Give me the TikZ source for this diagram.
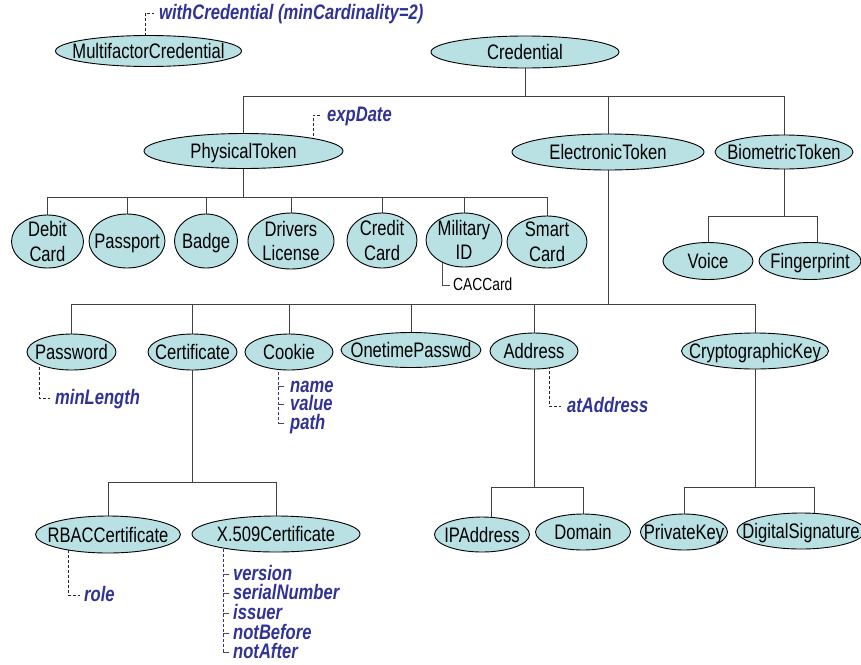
\documentclass[tikz,border=0pt]{standalone}
\usepackage{fontspec}
\setmainfont{Liberation Sans}[FakeStretch=0.79]
\usetikzlibrary{shapes.geometric}
\definecolor{ellfill}{RGB}{185,225,228}
\definecolor{attrblue}{RGB}{48,50,150}
\pgfdeclarelayer{bg}
\pgfsetlayers{bg,main}
\begin{document}
\begin{tikzpicture}[x=1pt,y=-1pt,
  ell/.style={ellipse, draw=black, line width=0.9pt, fill=ellfill, inner sep=0pt, outer sep=0pt},
  every label/.style={font=\fontsize{21}{24.5}\selectfont, inner sep=0pt, text height=15pt, text depth=0pt},
  two/.style={align=center, text height={}, text depth={}},
  tree/.style={draw=black!75, line width=0.9pt},
  attrline/.style={draw=black!85, line width=0.8pt, dash pattern=on 3pt off 2pt},
  blueline/.style={draw=attrblue, line width=0.8pt, dash pattern=on 3pt off 2pt},
  tickline/.style={draw=black!70, line width=0.8pt},
  attr/.style={font=\fontsize{21}{24}\selectfont\bfseries\itshape, text=attrblue, inner sep=0pt, anchor=base west},
  small/.style={font=\fontsize{17.5}{20}\selectfont, text=black, inner sep=0pt, anchor=base west},
]
\useasboundingbox (0,0) rectangle (861,664);

% ---- nodes ----
\node[ell, minimum width=186pt, minimum height=31pt, label=center:MultifactorCredential] (MC) at (148.5,51) {};
\node[ell, minimum width=188pt, minimum height=32pt, label=center:Credential] (Cred) at (525,52) {};
\node[ell, minimum width=199pt, minimum height=35pt, label=center:PhysicalToken] (PT) at (243.5,151) {};
\node[ell, minimum width=192pt, minimum height=36pt, label=center:ElectronicToken] (ET) at (608,152) {};
\node[ell, minimum width=138pt, minimum height=34pt, label=center:BiometricToken] (BT) at (784,152) {};

\node[ell, minimum width=72pt, minimum height=53pt, label={[two]center:Debit\\Card}] (Debit) at (47.5,241.5) {};
\node[ell, minimum width=76pt, minimum height=54pt, label=center:Passport] (Pass) at (127,241) {};
\node[ell, minimum width=63pt, minimum height=54pt, label=center:Badge] (Badge) at (206,241) {};
\node[ell, minimum width=86pt, minimum height=56pt, label={[two]center:Drivers\\License}] (Drv) at (291,241) {};
\node[ell, minimum width=70pt, minimum height=55pt, label={[two]center:Credit\\Card}] (Credit) at (382,240.5) {};
\node[ell, minimum width=76pt, minimum height=54pt, label={[two]center:Military\\ID}] (Mil) at (464,240) {};
\node[ell, minimum width=80pt, minimum height=52pt, label={[two]center:Smart\\Card}] (Smart) at (547,242) {};

\node[ell, minimum width=90pt, minimum height=37pt, label=center:Voice] (Voice) at (708,261) {};
\node[ell, minimum width=102pt, minimum height=37pt, label=center:Fingerprint] (Finger) at (810,261) {};

\node[ell, minimum width=89pt, minimum height=36pt, label=center:Password] (Pwd) at (71.5,352) {};
\node[ell, minimum width=89pt, minimum height=36pt, label=center:Certificate] (Cert) at (192.5,352) {};
\node[ell, minimum width=88pt, minimum height=36pt, label=center:Cookie] (Cookie) at (289,352) {};
\node[ell, minimum width=140pt, minimum height=35pt, label=center:OnetimePasswd] (OTP) at (411,350) {};
\node[ell, minimum width=88pt, minimum height=36pt, label=center:Address] (Addr) at (534,351) {};
\node[ell, minimum width=147pt, minimum height=36pt, label=center:CryptographicKey] (CK) at (755,351) {};

\node[ell, minimum width=145pt, minimum height=37pt, label=center:RBACCertificate] (RBAC) at (108,534.5) {};
\node[ell, minimum width=168pt, minimum height=36pt, label=center:X.509Certificate] (X509) at (276,534) {};
\node[ell, minimum width=95pt, minimum height=35pt, label=center:IPAddress] (IP) at (482,534.5) {};
\node[ell, minimum width=95pt, minimum height=36pt, label=center:Domain] (Dom) at (583,532) {};
\node[ell, minimum width=87pt, minimum height=36pt, label=center:PrivateKey] (PK) at (684,532) {};
\node[ell, minimum width=128pt, minimum height=36pt, label=center:DigitalSignature] (DS) at (801,531) {};

% ---- attribute texts ----
\node[attr] (wc) at (159,19) {withCredential (minCardinality=2)};
\node[attr] (exp) at (327,121) {expDate};
\node[attr] (minl) at (55,404) {minLength};
\node[attr] (cname) at (290,392) {name};
\node[attr] (cvalue) at (290,410) {value};
\node[attr] (cpath) at (290,429) {path};
\node[attr] (ata) at (567,412) {atAddress};
\node[attr] (role) at (84,601) {role};
\node[attr] (xver) at (233,580) {version};
\node[attr] (xser) at (233,599) {serialNumber};
\node[attr] (xiss) at (233,619) {issuer};
\node[attr] (xnb) at (233,639) {notBefore};
\node[attr] (xna) at (233,658) {notAfter};
\node[small] (cac) at (453,290) {CACCard};

% ---- connectors (behind the ellipses) ----
\begin{pgfonlayer}{bg}
\coordinate (b1) at (0,96);
\coordinate (b2) at (0,197);
\coordinate (b3) at (0,216);
\coordinate (b4) at (0,304);
\coordinate (b5) at (0,482);
\coordinate (b6) at (0,487);
\coordinate (b7) at (0,487);
\coordinate (ipS) at ([xshift=9pt]IP.center);
\coordinate (fpS) at ([xshift=7pt]Finger.center);
\coordinate (dsS) at ([xshift=13pt]DS.center);

% Credential
\draw[tree] (Cred.center) -- (Cred.center |- b1);
\draw[tree] (PT.center |- b1) -- (BT.center |- b1);
\foreach \n in {PT,ET,BT} \draw[tree] (\n.center) -- (\n.center |- b1);

% PhysicalToken
\draw[tree] (PT.center) -- (PT.center |- b2);
\draw[tree] (Debit.center |- b2) -- (Smart.center |- b2);
\foreach \n in {Debit,Pass,Badge,Drv,Credit,Mil,Smart} \draw[tree] (\n.center) -- (\n.center |- b2);

% BiometricToken
\draw[tree] (BT.center) -- (BT.center |- b3);
\draw[tree] (Voice.center |- b3) -- (fpS |- b3);
\draw[tree] (Voice.center) -- (Voice.center |- b3);
\draw[tree] (fpS) -- (fpS |- b3);

% ElectronicToken
\draw[tree] (ET.center) -- (ET.center |- b4);
\draw[tree] (Pwd.center |- b4) -- (CK.center |- b4);
\foreach \n in {Pwd,Cert,Cookie,OTP,Addr,CK} \draw[tree] (\n.center) -- (\n.center |- b4);

% Certificate
\draw[tree] (Cert.center) -- (Cert.center |- b5);
\draw[tree] (RBAC.center |- b5) -- (X509.center |- b5);
\foreach \n in {RBAC,X509} \draw[tree] (\n.center) -- (\n.center |- b5);

% Address
\draw[tree] (Addr.center) -- (Addr.center |- b6);
\draw[tree] (ipS |- b6) -- (Dom.center |- b6);
\draw[tree] (ipS) -- (ipS |- b6);
\draw[tree] (Dom.center) -- (Dom.center |- b6);

% CryptographicKey
\draw[tree] (CK.center) -- (CK.center |- b7);
\draw[tree] (PK.center |- b7) -- (dsS |- b7);
\draw[tree] (PK.center) -- (PK.center |- b7);
\draw[tree] (dsS) -- (dsS |- b7);

% attribute connectors
\draw[attrline] ([xshift=-3.5pt]MC.center) |- ([xshift=-5pt,yshift=6pt]wc.base west);
\draw[attrline] ([xshift=69.5pt]PT.center) |- ([xshift=-5pt,yshift=6pt]exp.base west);
\draw[attrline] ([xshift=-32.5pt]Pwd.center) |- ([xshift=-5pt,yshift=6pt]minl.base west);
\draw[attrline] ([xshift=15pt]Addr.center) |- ([xshift=-6pt,yshift=6pt]ata.base west);
\draw[attrline] ([xshift=-40pt]RBAC.center) |- ([xshift=-4pt,yshift=6pt]role.base west);
\draw[tickline] ([xshift=-22pt]Mil.center) |- ([xshift=-3pt,yshift=5pt]cac.base west);

\draw[blueline] ([xshift=-11pt]Cookie.center) |- ([xshift=-12pt,yshift=6pt]cpath.base west);
\foreach \t in {cname,cvalue,cpath}
  \draw[tickline] ([xshift=-6pt,yshift=6pt]\t.base west) -- ++(-6pt,0pt);

\draw[blueline] ([xshift=-53pt]X509.center) |- ([xshift=-10pt,yshift=6pt]xna.base west);
\foreach \t in {xver,xser,xiss,xnb,xna}
  \draw[tickline] ([xshift=-4pt,yshift=6pt]\t.base west) -- ++(-6pt,0pt);
\end{pgfonlayer}
\end{tikzpicture}
\end{document}
